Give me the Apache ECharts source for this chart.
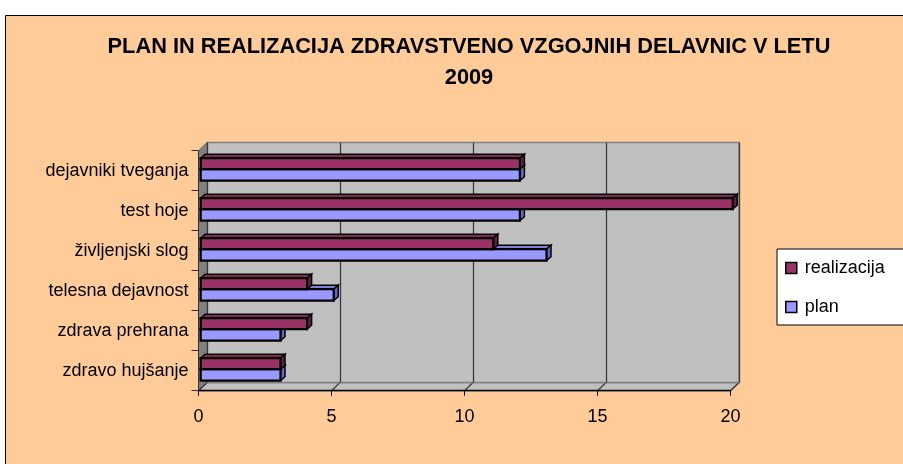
<!DOCTYPE html>
<html><head><meta charset="utf-8">
<script src="https://cdn.jsdelivr.net/npm/echarts@6/dist/echarts.min.js"></script>
<style>html,body{margin:0;padding:0;background:#fff;}#c{width:903px;height:464px;}</style>
</head><body><div id="c"></div>
<script>
const categories = ['dejavniki tveganja','test hoje','življenjski slog','telesna dejavnost','zdrava prehrana','zdravo hujšanje'];
const realizacija = [12, 20, 11, 4, 4, 3];
const plan = [12, 12, 13, 5, 3, 3];
const xTicks = [0, 5, 10, 15, 20];
const titleLines = ['PLAN IN REALIZACIJA ZDRAVSTVENO VZGOJNIH DELAVNIC V LETU', '2009'];

const FONT = '"Liberation Sans", Arial, sans-serif';
const F = {left: 198.5, top: 150.7, width: 532, height: 240};
const D = {dx: 8.5, dy: -8.2};
const COL = {
  r: {front: '#993366', top: '#7d2a55', side: '#5e1f40'},
  p: {front: '#9999FF', top: '#8080e0', side: '#6666cc'}
};

function makeRender(kind) {
  const col = COL[kind];
  return function (params, api) {
    const cat = api.value(0), val = api.value(1);
    const p0 = api.coord([0, cat]), p1 = api.coord([val, cat]);
    const off = 2.2;
    const x0 = p0[0] + off, x1 = p1[0] + off, c = p0[1];
    const yt = kind === 'r' ? c - 12.5 : c - 1.5;
    const yb = kind === 'r' ? c - 1.5 : c + 10;
    const dx = 4.5, dy = -4;
    return {type: 'group', children: [
      {type: 'polygon', shape: {points: [[x0, yt], [x0 + dx, yt + dy], [x1 + dx, yt + dy], [x1, yt]]},
        style: {fill: col.top, stroke: '#000', lineWidth: 1.5}},
      {type: 'polygon', shape: {points: [[x1, yt], [x1 + dx, yt + dy], [x1 + dx, yb + dy], [x1, yb]]},
        style: {fill: col.side, stroke: '#000', lineWidth: 1.5}},
      {type: 'rect', shape: {x: x0, y: yt, width: x1 - x0, height: yb - yt},
        style: {fill: col.front, stroke: '#000', lineWidth: 2.2}}
    ]};
  };
}

const chart = echarts.init(document.getElementById('c'), null, {renderer: 'canvas'});

const option = {
  backgroundColor: '#fff',
  animation: false,
  grid: [
    {left: F.left, top: F.top, width: F.width, height: F.height, containLabel: false},
    {left: F.left + D.dx, top: F.top + D.dy, width: F.width, height: F.height, show: true,
      backgroundColor: '#C0C0C0', borderColor: '#808080', borderWidth: 1.5, z: 0}
  ],
  xAxis: [
    {gridIndex: 0, type: 'value', min: xTicks[0], max: xTicks[xTicks.length - 1], interval: 5,
      axisLine: {show: true, lineStyle: {color: '#000', width: 1.3}},
      axisTick: {show: true, inside: false, length: 5, lineStyle: {color: '#000'}},
      axisLabel: {show: true, margin: 17, fontSize: 18, color: '#000', fontFamily: FONT},
      splitLine: {show: false}},
    {gridIndex: 1, type: 'value', min: xTicks[0], max: xTicks[xTicks.length - 1], interval: 5,
      axisLine: {show: false}, axisTick: {show: false}, axisLabel: {show: false},
      splitLine: {show: true, lineStyle: {color: '#3a3a3a', width: 1.3}}}
  ],
  yAxis: [
    {gridIndex: 0, type: 'category', data: categories, inverse: true,
      axisLine: {show: true, lineStyle: {color: '#333', width: 1}},
      axisTick: {show: true, length: 7, lineStyle: {color: '#333'}},
      axisLabel: {margin: 10, fontSize: 18, color: '#000', fontFamily: FONT}},
    {gridIndex: 1, type: 'category', data: categories, inverse: true, show: false}
  ],
  legend: {
    data: ['realizacija', 'plan'], orient: 'vertical', left: 777, top: 249,
    padding: [10, 40, 9, 8], itemGap: 21, itemWidth: 11, itemHeight: 11, icon: 'rect',
    backgroundColor: '#fff', borderColor: '#000', borderWidth: 1, borderRadius: 0,
    itemStyle: {borderColor: '#000', borderWidth: 1.5},
    textStyle: {fontSize: 18, color: '#000', fontFamily: FONT, padding: [0, 0, 0, 3]}
  },
  series: [
    {name: 'plan', type: 'custom', xAxisIndex: 0, yAxisIndex: 0, z: 3,
      itemStyle: {color: COL.p.front}, encode: {x: 1, y: 0},
      data: plan.map((v, i) => [i, v]), renderItem: makeRender('p')},
    {name: 'realizacija', type: 'custom', xAxisIndex: 0, yAxisIndex: 0, z: 4,
      itemStyle: {color: COL.r.front}, encode: {x: 1, y: 0},
      data: realizacija.map((v, i) => [i, v]), renderItem: makeRender('r')}
  ]
};
chart.setOption(option);

// decorative 3D walls derived from the axis scales
const bL = F.left, bR = chart.convertToPixel({xAxisIndex: 0}, xTicks[xTicks.length - 1]);
const yBottom = F.top + F.height, yUp = F.top;
const g = [
  {type: 'rect', z: -20, shape: {x: 5.5, y: 15.5, width: 1200, height: 1200},
    style: {fill: '#FFCC99', stroke: '#000', lineWidth: 1}},
  {type: 'polygon', z: -5, shape: {points: [[bL, yUp], [bL + D.dx, yUp + D.dy], [bL + D.dx, yBottom + D.dy], [bL, yBottom]]},
    style: {fill: '#808080', stroke: '#666', lineWidth: 1}},
  {type: 'polygon', z: -5, shape: {points: [[bL, yBottom], [bL + D.dx, yBottom + D.dy], [bR + D.dx, yBottom + D.dy], [bR, yBottom]]},
    style: {fill: '#C0C0C0', stroke: '#808080', lineWidth: 1.5}}
];
xTicks.forEach(t => {
  const x = chart.convertToPixel({xAxisIndex: 0}, t);
  g.push({type: 'line', z: -4, shape: {x1: x, y1: yBottom, x2: x + D.dx, y2: yBottom + D.dy},
    style: {stroke: '#3a3a3a', lineWidth: 1.2}});
});
titleLines.forEach((t, i) => {
  g.push({type: 'text', z: 10, x: 469, y: i === 0 ? 47 : 78, scaleX: 0.99,
    style: {text: t, font: 'bold 22px ' + FONT, fill: '#000', textAlign: 'center', textVerticalAlign: 'middle'}});
});
chart.setOption({graphic: g});
</script></body></html>
